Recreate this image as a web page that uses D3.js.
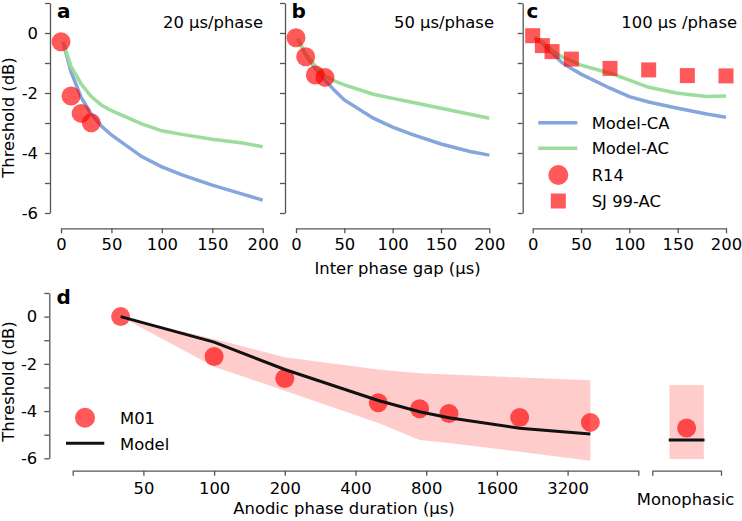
<!DOCTYPE html>
<html><head><meta charset="utf-8">
<script src="https://cdn.jsdelivr.net/npm/d3@7"></script>
<style>
body{margin:0;background:#fff;}
text{font-family:"DejaVu Sans",sans-serif;}
</style></head>
<body><svg id="chart" width="742" height="521"></svg>
<script>
// ---------- data ----------
const ipgModel = [2, 10, 20, 30, 40, 50, 80, 100, 120, 150, 180, 200];
const caA = [-0.3, -1.3, -2.15, -2.7, -3.1, -3.4, -4.12, -4.46, -4.73, -5.07, -5.37, -5.57];
const acA = [-0.3, -1.12, -1.7, -2.12, -2.4, -2.59, -3.03, -3.26, -3.38, -3.54, -3.67, -3.79];
const caB = [-0.2, -0.73, -1.18, -1.57, -1.92, -2.23, -2.84, -3.14, -3.38, -3.7, -3.95, -4.07];
const acB = [-0.2, -0.7, -1.1, -1.43, -1.6, -1.73, -2.04, -2.18, -2.31, -2.51, -2.71, -2.84];
const caC = [-0.15, -0.34, -0.66, -0.98, -1.18, -1.37, -1.84, -2.12, -2.3, -2.51, -2.7, -2.81];
const acC = [-0.15, -0.3, -0.57, -0.79, -0.93, -1.07, -1.34, -1.57, -1.81, -2.01, -2.12, -2.1];
const ipgR14 = [0, 10, 20, 30];
const r14A = [-0.29, -2.1, -2.68, -2.99];
const r14B = [-0.16, -0.79, -1.4, -1.48];
const ipgSJ = [0, 10, 20, 40, 80, 120, 160, 200];
const sj99 = [-0.09, -0.42, -0.62, -0.87, -1.18, -1.23, -1.42, -1.43];
const panelTitles = ["20 µs/phase", "50 µs/phase", "100 µs /phase"];
const ipgTicks = [0, 50, 100, 150, 200];
const yTicks = [1, 0, -1, -2, -3, -4, -5, -6];

const durations = [40, 100, 200, 500, 750, 1000, 2000, 4000];
const m01 = [0, -1.69, -2.62, -3.65, -3.9, -4.1, -4.27, -4.48];
const modelD = [0, -1.08, -2.24, -3.55, -4.03, -4.28, -4.73, -4.97];
const bandUpper = [0, -0.95, -1.72, -2.24, -2.4, -2.45, -2.58, -2.69];
const bandLower = [0, -2.12, -3.14, -4.5, -5.23, -5.35, -5.72, -6.1];
const durTicks = [25, 50, 100, 200, 400, 800, 1600, 3200, 6400];
const durLabels = ["", "50", "100", "200", "400", "800", "1600", "3200", ""];
const monoM01 = -4.72;
const monoModel = -5.23;
const monoBand = [-2.9, -6.03];

// ---------- styles ----------
const BLUE = "#86a5dc", GREEN = "#9cdc9c", RED = "#ff0000", AX = "#555";
const FS = "16.4px";

const svg = d3.select("#chart");

function styleAxis(g) {
  g.selectAll("path.domain").attr("stroke", AX).attr("stroke-width", 1.3);
  g.selectAll(".tick line").attr("stroke", AX).attr("stroke-width", 1.3);
  g.selectAll(".tick text").attr("fill", "#000").style("font-size", FS)
    .style("font-family", "DejaVu Sans");
}
const yFmt = d => (d % 2 === 0) ? (d < 0 ? "-" + Math.abs(d) : String(d)) : "";

// ---------- panels a,b,c ----------
const panels = [
  {x0: 61, x1: 262.7, spine: 50, ca: caA, ac: acA, r14: r14A, letter: "a", lx: 57, tx: 263, labels: true},
  {x0: 296, x1: 489.3, spine: 285, ca: caB, ac: acB, r14: r14B, letter: "b", lx: 291.5, tx: 494, labels: false},
  {x0: 532.7, x1: 726, spine: 522.7, ca: caC, ac: acC, r14: null, letter: "c", lx: 526.5, tx: 737, labels: false}
];
const yTop = d3.scaleLinear().domain([-6, 1]).range([213, 3]);

panels.forEach((p, i) => {
  const x = d3.scaleLinear().domain([0, 200]).range([p.x0, p.x1]);
  const g = svg.append("g");
  // y axis
  const ya = d3.axisLeft(yTop).tickValues(yTicks).tickSize(5).tickSizeOuter(0).tickPadding(7)
    .tickFormat(p.labels ? yFmt : () => "");
  g.append("g").attr("transform", `translate(${p.spine},0)`).call(ya).call(styleAxis);
  // x axis
  const xa = d3.axisBottom(x).tickValues(ipgTicks).tickSize(5).tickSizeOuter(0).tickPadding(5)
    .tickFormat(d3.format("d"));
  g.append("g").attr("transform", `translate(0,228.3)`).call(xa).call(styleAxis);

  const line = d3.line().x((d, j) => x(ipgModel[j])).y(d => yTop(d));
  g.append("path").datum(p.ca).attr("d", line).attr("fill", "none")
    .attr("stroke", BLUE).attr("stroke-width", 3.5);
  g.append("path").datum(p.ac).attr("d", line).attr("fill", "none")
    .attr("stroke", GREEN).attr("stroke-width", 3.5);
  if (p.r14) {
    g.selectAll("circle.r14").data(p.r14).enter().append("circle")
      .attr("cx", (d, j) => x(ipgR14[j])).attr("cy", d => yTop(d)).attr("r", 9.5)
      .attr("fill", RED).attr("fill-opacity", 0.65);
  } else {
    g.selectAll("rect.sj").data(sj99).enter().append("rect")
      .attr("x", (d, j) => x(ipgSJ[j]) - 7.5).attr("y", d => yTop(d) - 7.5)
      .attr("width", 15).attr("height", 15)
      .attr("fill", RED).attr("fill-opacity", 0.65);
  }
  g.append("text").attr("x", p.lx).attr("y", 18).text(p.letter)
    .style("font-size", "20px").style("font-weight", "bold");
  g.append("text").attr("x", p.tx).attr("y", 28).attr("text-anchor", "end")
    .text(panelTitles[i]).style("font-size", FS);
});

svg.append("text").attr("transform", "translate(14,117.5) rotate(-90)")
  .attr("text-anchor", "middle").text("Threshold (dB)").style("font-size", FS);
svg.append("text").attr("x", 397.5).attr("y", 274).attr("text-anchor", "middle")
  .text("Inter phase gap (µs)").style("font-size", FS);

// legend c
const lg = svg.append("g");
const legRows = [
  {type: "line", color: BLUE, label: "Model-CA", y: 122.7},
  {type: "line", color: GREEN, label: "Model-AC", y: 148.3},
  {type: "circle", label: "R14", y: 175},
  {type: "square", label: "SJ 99-AC", y: 201}
];
legRows.forEach(r => {
  if (r.type === "line") {
    lg.append("line").attr("x1", 538.3).attr("x2", 577.3).attr("y1", r.y).attr("y2", r.y)
      .attr("stroke", r.color).attr("stroke-width", 3.5);
  } else if (r.type === "circle") {
    lg.append("circle").attr("cx", 558.3).attr("cy", r.y).attr("r", 10)
      .attr("fill", RED).attr("fill-opacity", 0.65);
  } else {
    lg.append("rect").attr("x", 558.3 - 7.5).attr("y", r.y - 7.5).attr("width", 15).attr("height", 15)
      .attr("fill", RED).attr("fill-opacity", 0.65);
  }
  lg.append("text").attr("x", 591.7).attr("y", r.y + 6).text(r.label).style("font-size", FS);
});

// ---------- panel d ----------
const xd = d3.scaleLog().base(2).domain([25, 6400]).range([72.7, 638.3]);
const yd = d3.scaleLinear().domain([-6, 1]).range([458.3, 293]);
const xm = d3.scaleLinear().domain([0, 1]).range([652.3, 721]);
const gd = svg.append("g");

gd.append("g").attr("transform", "translate(49.3,0)")
  .call(d3.axisLeft(yd).tickValues(yTicks).tickSize(5).tickSizeOuter(0).tickPadding(7).tickFormat(yFmt))
  .call(styleAxis);
gd.append("g").attr("transform", "translate(0,470.7)")
  .call(d3.axisBottom(xd).tickValues(durTicks).tickSize(5).tickSizeOuter(0).tickPadding(7)
    .tickFormat((d, i) => durLabels[i]))
  .call(styleAxis);
gd.append("g").attr("transform", "translate(0,470.7)")
  .call(d3.axisBottom(xm).tickValues([0, 1]).tickSize(5).tickSizeOuter(0).tickFormat(() => ""))
  .call(styleAxis);

const area = d3.area().x((d, j) => xd(durations[j]))
  .y0((d, j) => yd(bandLower[j])).y1(d => yd(d));
gd.append("path").datum(bandUpper).attr("d", area).attr("fill", RED).attr("fill-opacity", 0.2);
gd.append("rect").attr("x", xm(0.25)).attr("width", xm(0.75) - xm(0.25))
  .attr("y", yd(monoBand[0])).attr("height", yd(monoBand[1]) - yd(monoBand[0]))
  .attr("fill", RED).attr("fill-opacity", 0.2);

gd.selectAll("circle.m01").data(m01).enter().append("circle")
  .attr("cx", (d, j) => xd(durations[j])).attr("cy", d => yd(d)).attr("r", 9.5)
  .attr("fill", RED).attr("fill-opacity", 0.65);
gd.append("circle").attr("cx", xm(0.5)).attr("cy", yd(monoM01)).attr("r", 9.5)
  .attr("fill", RED).attr("fill-opacity", 0.65);

gd.append("path").datum(modelD)
  .attr("d", d3.line().x((d, j) => xd(durations[j])).y(d => yd(d)))
  .attr("fill", "none").attr("stroke", "#111").attr("stroke-width", 3);
gd.append("line").attr("x1", xm(0.24)).attr("x2", xm(0.76))
  .attr("y1", yd(monoModel)).attr("y2", yd(monoModel))
  .attr("stroke", "#111").attr("stroke-width", 3);

gd.append("text").attr("x", 56.5).attr("y", 304).text("d")
  .style("font-size", "20px").style("font-weight", "bold");
svg.append("text").attr("transform", "translate(14,381.5) rotate(-90)")
  .attr("text-anchor", "middle").text("Threshold (dB)").style("font-size", FS);
svg.append("text").attr("x", 344).attr("y", 513.5).attr("text-anchor", "middle")
  .text("Anodic phase duration (µs)").style("font-size", FS);
svg.append("text").attr("x", 685.5).attr("y", 505).attr("text-anchor", "middle")
  .text("Monophasic").style("font-size", FS);

// legend d
gd.append("circle").attr("cx", 85).attr("cy", 417.7).attr("r", 10)
  .attr("fill", RED).attr("fill-opacity", 0.65);
gd.append("text").attr("x", 120).attr("y", 424).text("M01").style("font-size", FS);
gd.append("line").attr("x1", 66).attr("x2", 104.3).attr("y1", 443.3).attr("y2", 443.3)
  .attr("stroke", "#111").attr("stroke-width", 3);
gd.append("text").attr("x", 120).attr("y", 449.5).text("Model").style("font-size", FS);
</script>
</body></html>
